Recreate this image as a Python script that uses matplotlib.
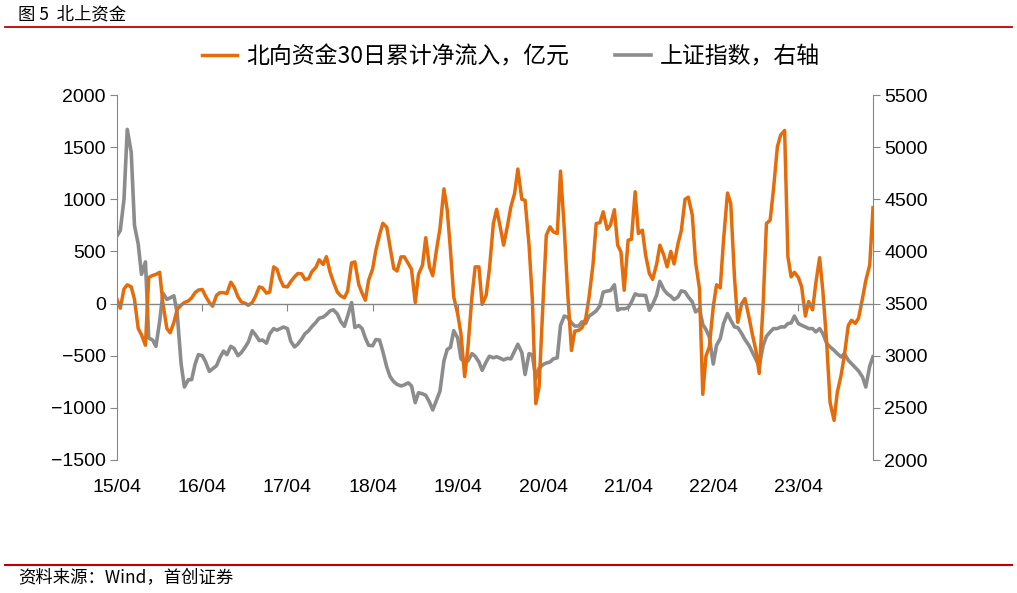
import numpy as np
import pandas as pd
import matplotlib
matplotlib.use("Agg")
import matplotlib.pyplot as plt
from matplotlib.lines import Line2D

plt.rcParams['font.family'] = ['Liberation Sans', 'Noto Sans CJK SC', 'DejaVu Sans']

# ---------------- data (semi-monthly readings) ----------------
dates = pd.date_range('2015-04-01', periods=214, freq='SMS')

northbound = [
    40, -45, 140, 180, 160, 40, -240, -300, -400, 250,
    270, 280, 300, 0, -240, -280, -180, -55, -15, 10,
    25, 55, 105, 130, 135, 70, 10, -25, 80, 105,
    105, 96, 205, 160, 64, 16, 3, -16, 10, 70,
    160, 150, 100, 110, 352, 330, 230, 165, 160, 210,
    255, 288, 285, 230, 240, 307, 347, 420, 375, 450,
    300, 208, 110, 75, 55, 120, 390, 400, 180, 100,
    32, 224, 330, 510, 660, 770, 730, 540, 336, 312,
    448, 448, 384, 328, 10, 280, 368, 632, 352, 267,
    528, 720, 1100, 900, 512, 64, -100, -290, -700, -420,
    64, 352, 352, -8, 80, 330, 768, 904, 728, 560,
    752, 928, 1056, 1290, 1000, 990, 560, 48, -960, -800,
    16, 656, 736, 688, 672, 1270, 720, 128, -450, -264,
    -256, -232, -144, 56, 368, 768, 776, 880, 712, 752,
    900, 560, 496, 128, 608, 616, 1072, 672, 704, 464,
    288, 232, 376, 560, 464, 352, 500, 380, 576, 700,
    1000, 1020, 850, 400, 140, -870, -500, -416, -30, 180,
    150, 608, 1060, 960, 250, -180, 0, 48, -128, -288,
    -450, -670, 0, 768, 800, 1090, 1504, 1616, 1660, 450,
    256, 300, 250, 160, -120, 20, -60, 200, 440, 120,
    -400, -950, -1120, -850, -690, -500, -210, -160, -190, -140,
    50, 220, 370, 920,
]

shindex = [
    4150, 4200, 4500, 5170, 4950, 4250, 4070, 3780, 3900, 3170,
    3150, 3090, 3330, 3600, 3540, 3555, 3575, 3410, 2920, 2700,
    2770, 2770, 2920, 3010, 3000, 2940, 2850, 2875, 2905, 2980,
    3045, 3010, 3090, 3070, 3000, 3030, 3080, 3130, 3240, 3200,
    3145, 3150, 3120, 3210, 3260, 3245, 3260, 3275, 3260, 3140,
    3084, 3110, 3160, 3210, 3240, 3280, 3320, 3360, 3370, 3395,
    3430, 3440, 3400, 3330, 3282, 3380, 3510, 3270, 3290, 3260,
    3170, 3100, 3095, 3155, 3150, 3040, 2890, 2800, 2750, 2725,
    2710, 2720, 2740, 2710, 2550, 2645, 2635, 2620, 2555, 2480,
    2580, 2660, 2950, 3060, 3080, 3240, 3170, 2970, 2940, 2950,
    3020, 2995, 2940, 2860, 2940, 2995, 2980, 2990, 2975, 2960,
    2975, 2970, 3045, 3110, 3030, 2820, 3020, 3010, 2780, 2880,
    2915, 2930, 2940, 2970, 2980, 3290, 3380, 3370, 3315, 3285,
    3285, 3325, 3310, 3380, 3405, 3430, 3480, 3610, 3620, 3625,
    3680, 3436, 3452, 3450, 3460, 3513, 3593, 3580, 3580, 3577,
    3436, 3492, 3580, 3713, 3634, 3596, 3570, 3538, 3564, 3622,
    3612, 3564, 3516, 3420, 3452, 3300, 3250, 3180, 2920, 3100,
    3164, 3308, 3404, 3340, 3276, 3270, 3212, 3154, 3100, 3036,
    2962, 2900, 3100, 3186, 3228, 3260, 3260, 3276, 3276, 3308,
    3314, 3380, 3308, 3292, 3276, 3260, 3260, 3228, 3260, 3212,
    3116, 3084, 3052, 3020, 2988, 3020, 2956, 2924, 2886, 2854,
    2796, 2700, 2900, 2990,
]

tick_dates = pd.to_datetime(['2015-04-01', '2016-04-01', '2017-04-01', '2018-04-01',
                             '2019-04-01', '2020-04-01', '2021-04-01', '2022-04-01',
                             '2023-04-01'])
tick_labels = ['15/04', '16/04', '17/04', '18/04', '19/04', '20/04', '21/04', '22/04', '23/04']
left_ticks = [-1500, -1000, -500, 0, 500, 1000, 1500, 2000]
right_ticks = [2000, 2500, 3000, 3500, 4000, 4500, 5000, 5500]

label_nb = '北向资金30日累计净流入，亿元'
label_sh = '上证指数，右轴'
title = '图 5  北上资金'
source = '资料来源：Wind，首创证券'

ORANGE = '#E46C0A'
GRAY = '#8C8C8C'
AXC = '#868686'
RED = '#C00000'
CJK = ['Noto Sans CJK SC', 'DejaVu Sans']

# ---------------- figure ----------------
W, H = 1017, 593
fig = plt.figure(figsize=(W / 100, H / 100), dpi=100)
ax = fig.add_axes([117 / W, 1 - 460 / H, (873 - 117) / W, (460 - 95) / H])
ax2 = ax.twinx()

l2, = ax2.plot(dates, shindex, color=GRAY, lw=2.6, solid_joinstyle='round')
l1, = ax.plot(dates, northbound, color=ORANGE, lw=2.5, solid_joinstyle='round')
ax.set_zorder(ax2.get_zorder() + 1)
ax.patch.set_visible(False)

ax.set_xlim(pd.Timestamp('2015-04-01'), pd.Timestamp('2024-02-15'))
ax.set_ylim(-1500, 2000)
ax2.set_ylim(2000, 5500)
ax.set_yticks(left_ticks)
ax2.set_yticks(right_ticks)

for s in ['top', 'right']:
    ax.spines[s].set_visible(False)
for s in ['top', 'left', 'bottom']:
    ax2.spines[s].set_visible(False)
ax.spines['left'].set_color(AXC)
ax2.spines['right'].set_color(AXC)
ax.spines['bottom'].set_position(('data', 0))
ax.spines['bottom'].set_color(AXC)
ax.spines['bottom'].set_linewidth(1.0)

ax.set_xticks(tick_dates)
ax.tick_params(axis='x', direction='out', length=5, color=AXC, labelbottom=False)
ax.tick_params(axis='y', direction='out', length=5, color=AXC, labelsize=14, pad=3)
ax2.tick_params(axis='y', direction='out', length=5, color=AXC, labelsize=14, pad=3)

sec = ax.secondary_xaxis('bottom')
sec.set_xticks(tick_dates, tick_labels)
sec.tick_params(length=0, pad=14, labelsize=14)
sec.spines['bottom'].set_visible(False)

# legend
fig.legend([l1, l2], [label_nb, label_sh], loc='center', bbox_to_anchor=(511 / W, 1 - 57 / H),
           ncol=2, frameon=False, prop={'family': CJK, 'size': 16.5},
           handlelength=1.55, handletextpad=0.4, columnspacing=2.0)

# title and decorations
fig.text(18 / W, 1 - 14 / H, title, family=CJK, fontsize=12.5, va='center', ha='left')
fig.add_artist(Line2D([5 / W, 1012 / W], [1 - 27 / H, 1 - 27 / H], color=RED, lw=1.3))
fig.add_artist(Line2D([5 / W, 1012 / W], [1 - 565 / H, 1 - 565 / H], color=RED, lw=1.5))
fig.text(18 / W, 1 - 578 / H, source, family=CJK, fontsize=12.5, va='center', ha='left',
         style='italic')

fig.savefig('out.png', dpi=100)
